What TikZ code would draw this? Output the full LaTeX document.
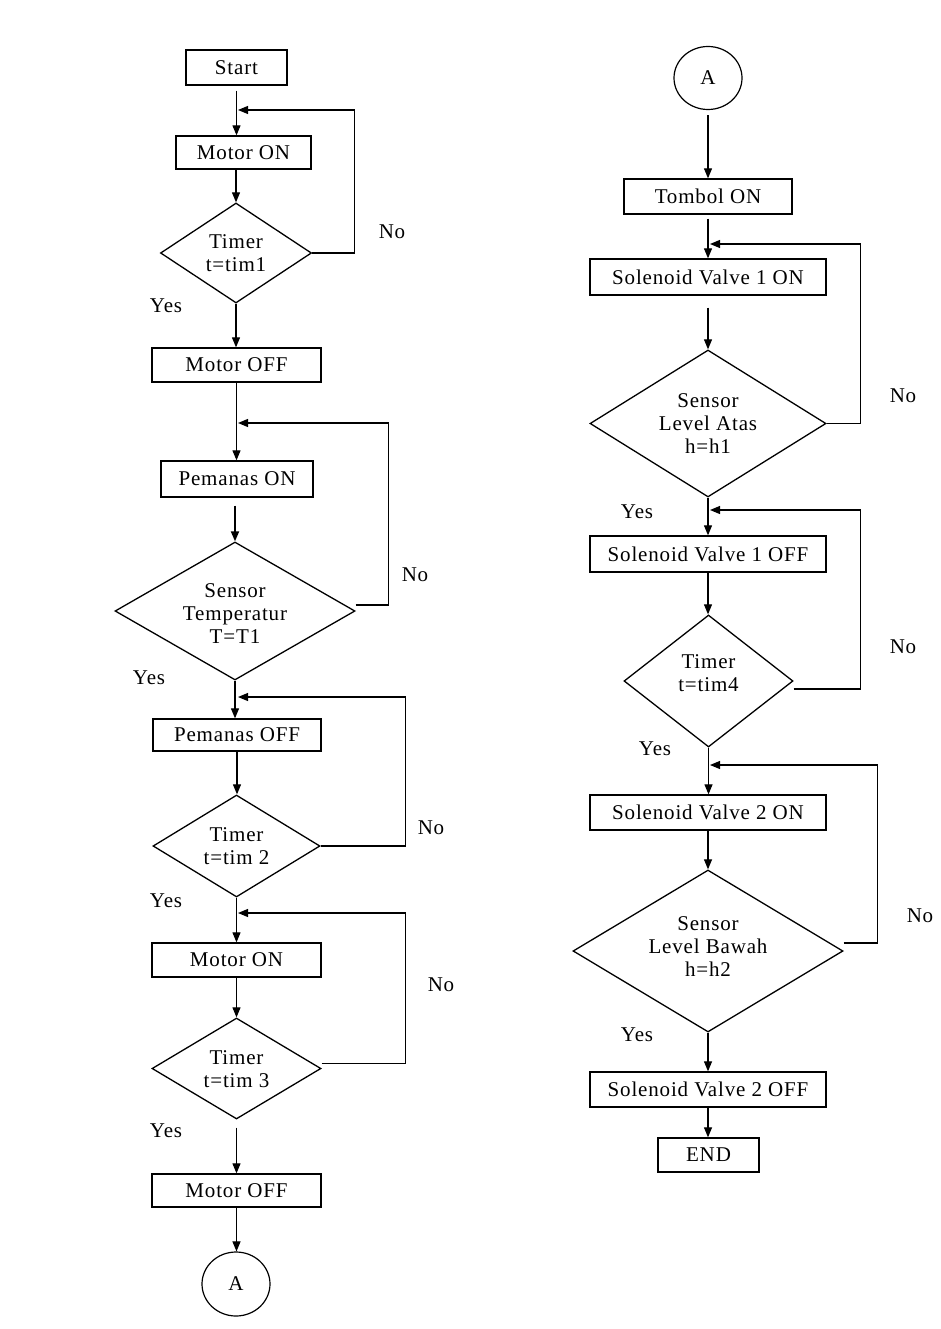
\documentclass[tikz,border=0pt]{standalone}
\usepackage{fontspec}
\setmainfont[LetterSpace=4]{Liberation Serif}
\usetikzlibrary{shapes.geometric,arrows.meta}
\begin{document}
\begin{tikzpicture}[x=1pt,y=-1pt,
  every node/.style={font=\fontsize{21}{23}\selectfont},
  box/.style={draw,line width=1.3pt,inner sep=0pt},
  dec/.style={draw,diamond,line width=1.3pt,inner sep=0pt},
  dtext/.style={align=center,inner sep=0pt},
  conn/.style={draw,ellipse,line width=1.2pt,inner sep=0pt},
  arr/.style={line width=1.1pt,-{Triangle[length=10pt,width=8pt]}},
  lbl/.style={inner sep=0pt}]
\useasboundingbox (0,0) rectangle (940,1329);

% ---------- left column ----------
\node[box,minimum width=101pt,minimum height=35pt] (start) at (236.5,67.5) {Start};
\node[box,minimum width=135pt,minimum height=33pt] (m1) at (243.5,152.5) {Motor ON};
\node[dec,minimum width=151pt,minimum height=100pt] (t1) at (236,253) {};
\node[dtext] (t1t) at (236,253) {Timer\\t=tim1};
\node[box,minimum width=169pt,minimum height=34pt] (mo1) at (236.5,365) {Motor OFF};
\node[box,minimum width=152pt,minimum height=36pt] (p1) at (237,479) {Pemanas ON};
\node[dec,minimum width=240pt,minimum height=138pt] (s1) at (235,611) {};
\node[dtext] (s1t) at (235,614) {Sensor\\Temperatur\\T=T1};
\node[box,minimum width=168pt,minimum height=32pt] (p2) at (237,735) {Pemanas OFF};
\node[dec,minimum width=167pt,minimum height=102pt] (t2) at (236.5,846) {};
\node[dtext] (t2t) at (236.5,846) {Timer\\t=tim 2};
\node[box,minimum width=169pt,minimum height=34pt] (m2) at (236.5,960) {Motor ON};
\node[dec,minimum width=169pt,minimum height=101pt] (t3) at (236.5,1068.5) {};
\node[dtext] (t3t) at (236.5,1069) {Timer\\t=tim 3};
\node[box,minimum width=169pt,minimum height=33pt] (mo2) at (236.5,1190.5) {Motor OFF};
\node[conn,minimum width=68pt,minimum height=64pt] (a1) at (236,1284) {A};

\coordinate (j1) at (238,110);
\coordinate (j2) at (238,423);
\coordinate (j3) at (238,697);
\coordinate (j4) at (238,913);

\draw[arr] (start.south) ++(0,5) -- (start.south |- m1.north);
\draw[arr] (t1.north |- m1.south) -- (t1.north);
\draw[arr] (t1.east) -- ++(42,0) |- (j1);
\draw[arr] (t1.south) -- (t1.south |- mo1.north);
\draw[arr] (mo1.south) -- (mo1.south |- p1.north);
\draw[arr,line width=1.8pt] (s1.north |- p1.south) ++(0,8) -- (s1.north);
\draw[arr] (s1.east) ++(0,-6) -- ++(33,0) |- (j2);
\draw[arr] (s1.south) -- (s1.south |- p2.north);
\draw[arr] (p2.south) -- (p2.south |- t2.north);
\draw[arr] (t2.east) -- ++(85,0) |- (j3);
\draw[arr] (t2.south) -- (t2.south |- m2.north);
\draw[arr] (m2.south) -- (m2.south |- t3.north);
\draw[arr] (t3.east) ++(0,-5) -- ++(84,0) |- (j4);
\draw[arr] (t3.south) ++(0,8) -- (t3.south |- mo2.north);
\draw[arr] (mo2.south) -- (mo2.south |- a1.north);

\node[lbl] (n1) at (392,232) {No};
\node[lbl] (y1) at (166,306) {Yes};
\node[lbl] (n2) at (415,575) {No};
\node[lbl] (y2) at (149,678) {Yes};
\node[lbl] (n3) at (431,828) {No};
\node[lbl] (y3) at (166,901) {Yes};
\node[lbl] (n4) at (441,985) {No};
\node[lbl] (y4) at (166,1131) {Yes};

% ---------- right column ----------
\node[conn,minimum width=68pt,minimum height=63pt] (a2) at (708,78) {A};
\node[box,minimum width=168pt,minimum height=35pt] (tb) at (708,196.5) {Tombol ON};
\node[box,minimum width=236pt,minimum height=36pt] (sv1) at (708,277) {Solenoid Valve 1 ON};
\node[dec,minimum width=236pt,minimum height=147pt] (sa) at (708,423.5) {};
\node[dtext] (sat) at (708,423.5) {Sensor\\Level Atas\\h=h1};
\node[box,minimum width=236pt,minimum height=36pt] (sv1o) at (708,554) {Solenoid Valve 1 OFF};
\node[dec,minimum width=169pt,minimum height=132pt] (t4) at (708.5,681) {};
\node[dtext] (t4t) at (708.5,673) {Timer\\t=tim4};
\node[box,minimum width=236pt,minimum height=35pt] (sv2) at (708,812.5) {Solenoid Valve 2 ON};
\node[dec,minimum width=270pt,minimum height=162pt] (sb) at (708,951) {};
\node[dtext] (sbt) at (708,947) {Sensor\\Level Bawah\\h=h2};
\node[box,minimum width=236pt,minimum height=35pt] (sv2o) at (708,1089.5) {Solenoid Valve 2 OFF};
\node[box,minimum width=101pt,minimum height=34pt] (end) at (708.5,1155) {END};

\coordinate (k1) at (710,244);
\coordinate (k2) at (710,510);
\coordinate (k3) at (710,765);

\draw[arr] (a2.south) ++(0,5) -- (a2.south |- tb.north);
\draw[arr] (tb.south) ++(0,4) -- (tb.south |- sv1.north);
\draw[arr] (sv1.south) ++(0,12) -- (sv1.south |- sa.north);
\draw[arr] (sa.east) -- ++(34,0) |- (k1);
\draw[arr] (sa.south) -- (sa.south |- sv1o.north);
\draw[arr] (sv1o.south) -- (sv1o.south |- t4.north);
\draw[arr] (t4.east) ++(0,8) -- ++(67,0) |- (k2);
\draw[arr] (t4.south) -- (t4.south |- sv2.north);
\draw[arr] (sv2.south) -- (sv2.south |- sb.north);
\draw[arr] (sb.east) ++(0,-8) -- ++(34,0) |- (k3);
\draw[arr] (sb.south) -- (sb.south |- sv2o.north);
\draw[arr] (sv2o.south) -- (sv2o.south |- end.north);

\node[lbl] (n5) at (903,396) {No};
\node[lbl] (y5) at (637,512) {Yes};
\node[lbl] (n6) at (903,647) {No};
\node[lbl] (y6) at (655,749) {Yes};
\node[lbl] (n7) at (920,916) {No};
\node[lbl] (y7) at (637,1035) {Yes};
\end{tikzpicture}
\end{document}
